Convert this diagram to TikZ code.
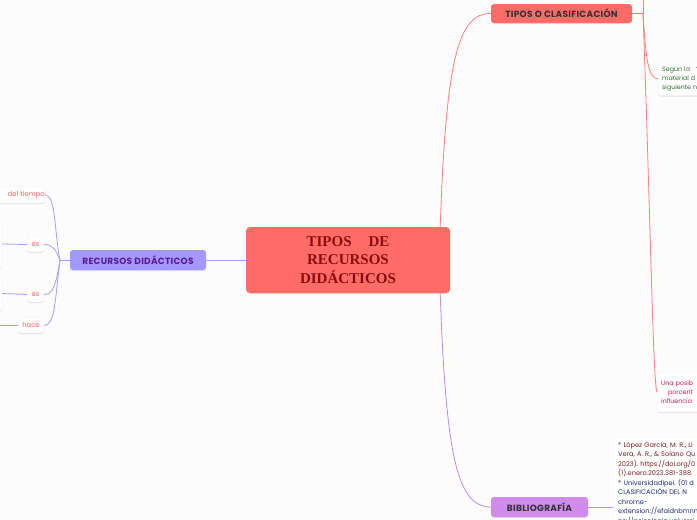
\documentclass[tikz,border=0pt]{standalone}
\usepackage{fontspec}
\setmainfont{Poppins}
\newfontfamily\rootfont{Liberation Serif}
\usetikzlibrary{shadows}
\definecolor{mapbg}{HTML}{FCFCFC}
\definecolor{coral}{HTML}{FF6B66}
\definecolor{coralline}{HTML}{FF7F7A}
\definecolor{lavender}{HTML}{A497FF}
\definecolor{lavline}{HTML}{A89CFF}
\definecolor{orchid}{HTML}{CF8CEB}
\definecolor{orchidline}{HTML}{B98BEA}
\definecolor{rootink}{HTML}{8A0E0E}
\definecolor{violetink}{HTML}{5E1A8C}
\definecolor{linkred}{HTML}{F0625C}
\definecolor{notegreen}{HTML}{2F6B2F}
\definecolor{notepink}{HTML}{C4175A}
\definecolor{refmaroon}{HTML}{7A1C1C}
\definecolor{refnavy}{HTML}{1F2B7A}
\definecolor{inkgray}{HTML}{333333}
\frenchspacing

\begin{document}
\begin{tikzpicture}[x=1pt, y=-1pt,
    soft/.style={drop shadow={shadow xshift=0pt, shadow yshift=-1pt, fill=black, opacity=0.10}},
    topic/.style={soft, rounded corners=3pt, inner sep=0pt, text=inkgray,
      font=\fontsize{9}{11}\selectfont\bfseries\addfontfeature{LetterSpace=3}},
    card/.style={soft, fill=white, draw=black!6, rounded corners=3pt, inner sep=0pt},
    link/.style={card, text=linkred, font=\fontsize{6.8}{8}\selectfont},
    note/.style={card, align=left, inner sep=4pt, font=\fontsize{6.3}{9.4}\selectfont},
    redwire/.style={draw=coralline, line width=0.8pt},
    lavwire/.style={draw=lavline, line width=0.8pt},
  ]
  \useasboundingbox (0,0) rectangle (697,520);
  \clip (0,0) rectangle (697,520);
  \fill[mapbg] (0,0) rectangle (697,520);

  % ---- central topic
  \node[soft, fill=coral, rounded corners=4pt, minimum width=204pt, minimum height=66pt,
    align=center, text=rootink, font=\rootfont\bfseries\fontsize{15}{18.5}\selectfont]
    (root) at (348,260) {TIPOS\hspace{17pt}DE\hspace{12pt}\\RECURSOS\\DIDÁCTICOS};

  % ---- main branches
  \node[topic, fill=coral, minimum width=141pt, minimum height=19pt]
    (tipos) at (561.5,13.5) {TIPOS O CLASIFICACIÓN};
  \node[topic, fill=lavender, text=violetink, minimum width=136pt, minimum height=20pt]
    (recursos) at (138,260) {RECURSOS DIDÁCTICOS};
  \node[topic, fill=orchid, minimum width=97pt, minimum height=20pt]
    (biblio) at (539.5,507) {BIBLIOGRAFÍA};

  \draw[redwire] (root.north east) ++(-10,0) coordinate (rootup)
    .. controls (446,60) and (458,13) .. (tipos.west);
  \draw[orchidline, line width=0.8pt] (root.south east) ++(-10,0) coordinate (rootdown)
    .. controls (446,460) and (458,507) .. (biblio.west);
  \draw[lavwire] (root.west) -- (recursos.east);

  % ---- TIPOS O CLASIFICACIÓN children
  \coordinate (tiposhub) at (643,13.5);
  \coordinate (tiposup) at (643,-4);
  \node[note, anchor=north west, minimum height=33pt, text width=60pt, text=notegreen]
    (segun) at (658,62) {Según la\hspace{6pt}‘\\material d\\siguiente n};
  \node[note, anchor=north west, minimum height=40pt, text width=60pt, text=notepink]
    (posible) at (657,372) {Una posib\\\hspace{7pt}porcent\\influencia};
  \draw[redwire] (tipos.east) -- (tiposhub) -- (tiposup);
  \draw[redwire] (tiposhub) .. controls (646,60) and (648,78) .. (segun.west);
  \draw[redwire] (tiposhub) .. controls (650,200) and (653,385) .. (posible.west);

  % ---- BIBLIOGRAFÍA child
  \node[note, anchor=north west, text width=90pt, inner sep=5pt,
    font=\fontsize{6.6}{9.5}\selectfont] (refs) at (613,437)
    {\textcolor{refmaroon}{* López Garcia, M. R., Li\\Vera, A. R., \& Solano Qu\\2023). https://doi.org/0\\(1).enero.2023.381-388}\\
     \textcolor{refnavy}{* Universidadipei. (01 d\\CLASIFICACIÓN DEL N\\chrome-\\extension://efaidnbmnn\\ps://psicologia.universi}};
  \draw[orchidline, line width=0.8pt] (biblio.east) -- (biblio.east -| refs.west);

  % ---- RECURSOS DIDÁCTICOS children
  \coordinate (lefthub) at (60,260);
  \node[link, anchor=east, minimum height=16pt, text width=60pt, align=right]
    (tiempo) at (45,195) {del tiempo\hspace{3pt}};
  \node[link, minimum width=17pt, minimum height=15pt] (esa) at (35.5,244.5) {es};
  \node[link, minimum width=17pt, minimum height=15pt] (esb) at (35.5,294.5) {es};
  \node[link, minimum width=26pt, minimum height=15pt] (hace) at (31,325.5) {hace};
  \node[card, anchor=east, minimum width=40pt, minimum height=48pt] (leftboxa) at (2,244) {};
  \node[card, anchor=east, minimum width=40pt, minimum height=37pt] (leftboxb) at (2,293.5) {};
  \coordinate (hacefar) at (-6,325.5);

  \draw[lavwire] (recursos.west) -- (lefthub);
  \draw[lavwire] (lefthub) .. controls (54,230) and (56,195) .. (tiempo.east);
  \draw[lavwire] (lefthub) .. controls (56,250) and (53,244.5) .. (esa.east);
  \draw[lavwire] (lefthub) .. controls (56,285) and (53,294.5) .. (esb.east);
  \draw[lavwire] (lefthub) .. controls (55,300) and (55,325.5) .. (hace.east);
  \draw[lavwire] (esa.west) -- (leftboxa.east);
  \draw[lavwire] (esb.west) -- (leftboxb.east);
  \draw[lavwire] (hace.west) -- (hacefar);
\end{tikzpicture}
\end{document}
